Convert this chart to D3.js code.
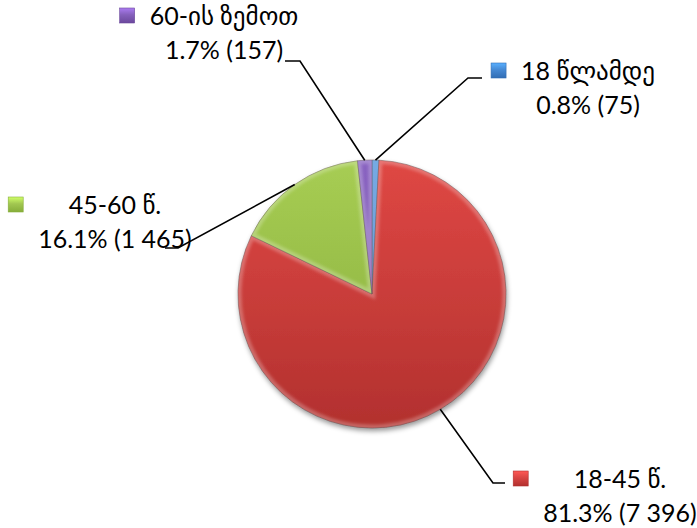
<!DOCTYPE html>
<html>
<head>
<meta charset="utf-8">
<script src="https://cdn.jsdelivr.net/npm/d3@7"></script>
<style>
  html, body { margin: 0; padding: 0; background: #fff; }
  svg { display: block; }
  .lbl { font-family: Lato, "DejaVu Sans", sans-serif; font-size: 25px; fill: #000; }
</style>
</head>
<body>
<svg id="chart" width="697" height="528"></svg>
<script>
// Age groups of the registered persons
const categories = ["18 წლამდე", "18-45 წ.", "45-60 წ.", "60-ის ზემოთ"];
const counts = [75, 7396, 1465, 157];
const percentLabels = ["0.8%", "81.3%", "16.1%", "1.7%"];
const countLabels = ["75", "7 396", "1 465", "157"];

// Slice colours: top / bottom of the vertical shading
const colorsTop = ["#4589D4", "#D94542", "#A2C751", "#8560BC"];
const colorsBottom = ["#316DB4", "#B2302E", "#86AD3A", "#6B489C"];

// Label placement: centre of the text column, first baseline, and leader elbow/end
const labelLayout = [
  { cx: 588, y: 80,  elbow: [468, 78],  end: [482, 78] },
  { cx: 620, y: 488, elbow: [493, 483], end: [505, 483] },
  { cx: 115, y: 214, elbow: [178, 248], end: [165, 248] },
  { cx: 224, y: 25,  elbow: [300, 61],  end: [285, 61] }
];

const svg = d3.select("#chart");
const cx = 372, cy = 294, radius = 134;
const defs = svg.append("defs");

const data = categories.map((c, i) => ({ cat: c, value: counts[i], i }));
const pie = d3.pie().sort(null).value(d => d.value);
const arcs = pie(data);
const arc = d3.arc().innerRadius(0).outerRadius(radius);

// gradients spanning the full pie height
colorsTop.forEach((c, i) => {
  const g = defs.append("linearGradient")
    .attr("id", "sliceGrad" + i)
    .attr("gradientUnits", "userSpaceOnUse")
    .attr("x1", 0).attr("y1", -radius).attr("x2", 0).attr("y2", radius);
  g.append("stop").attr("offset", "0%").attr("stop-color", d3.color(c).brighter(0.08));
  g.append("stop").attr("offset", "55%").attr("stop-color", d3.interpolateRgb(c, colorsBottom[i])(0.45));
  g.append("stop").attr("offset", "100%").attr("stop-color", colorsBottom[i]);

  const m = defs.append("linearGradient")
    .attr("id", "markGrad" + i)
    .attr("x1", 0).attr("y1", 0).attr("x2", 0).attr("y2", 1);
  m.append("stop").attr("offset", "0%").attr("stop-color", d3.color(c).brighter(0.7));
  m.append("stop").attr("offset", "45%").attr("stop-color", c);
  m.append("stop").attr("offset", "100%").attr("stop-color", colorsBottom[i]);
});

const shadow = defs.append("filter").attr("id", "pieShadow")
  .attr("x", "-20%").attr("y", "-20%").attr("width", "140%").attr("height", "140%");
shadow.append("feDropShadow").attr("dx", 1).attr("dy", 3).attr("stdDeviation", 2.5)
  .attr("flood-color", "#000").attr("flood-opacity", 0.4);

const soft = defs.append("filter").attr("id", "softRim");
soft.append("feGaussianBlur").attr("stdDeviation", 1.6);

arcs.forEach((a, i) => {
  defs.append("clipPath").attr("id", "clip" + i)
    .append("path").attr("d", arc(a));
});

const g = svg.append("g").attr("transform", `translate(${cx},${cy})`);

const slices = g.append("g").attr("filter", "url(#pieShadow)");
slices.selectAll("path.slice")
  .data(arcs)
  .join("path")
  .attr("class", "slice")
  .attr("d", arc)
  .attr("fill", d => `url(#sliceGrad${d.index})`)
  .attr("stroke", "rgba(40,20,20,0.45)")
  .attr("stroke-width", 0.8)
  .attr("stroke-linejoin", "round");

// bevel rim: light inner edge on each slice
g.selectAll("g.rim")
  .data(arcs)
  .join("g")
  .attr("class", "rim")
  .attr("clip-path", d => `url(#clip${d.index})`)
  .append("path")
  .attr("d", arc)
  .attr("fill", "none")
  .attr("stroke", "rgba(255,255,255,0.25)")
  .attr("stroke-width", 7)
  .attr("filter", "url(#softRim)");

// leader lines from the outer edge of each slice
const outer = d3.arc().innerRadius(radius).outerRadius(radius);
arcs.forEach((a, i) => {
  const p = outer.centroid(a);
  const L = labelLayout[i];
  svg.append("polyline")
    .attr("points", [[cx + p[0], cy + p[1]], L.elbow, L.end].map(q => q.join(",")).join(" "))
    .attr("fill", "none")
    .attr("stroke", "#000")
    .attr("stroke-width", 1.6);
});

// labels: category with legend key, then percent and count
arcs.forEach((a, i) => {
  const L = labelLayout[i];
  const lg = svg.append("g");
  const t1 = lg.append("text").attr("class", "lbl")
    .attr("x", L.cx).attr("y", L.y).attr("text-anchor", "middle")
    .text(categories[i]);
  const t2 = lg.append("text").attr("class", "lbl")
    .attr("x", L.cx).attr("y", L.y + 34).attr("text-anchor", "middle")
    .text(`${percentLabels[i]} (${countLabels[i]})`);
  const w = Math.max(t1.node().getComputedTextLength(), t2.node().getComputedTextLength());
  const left = L.cx - w / 2;
  lg.append("rect")
    .attr("x", left - 30).attr("y", L.y - 17)
    .attr("width", 15).attr("height", 15)
    .attr("fill", `url(#markGrad${i})`)
    .attr("stroke", colorsBottom[i])
    .attr("stroke-width", 0.6);
});
</script>
</body>
</html>
